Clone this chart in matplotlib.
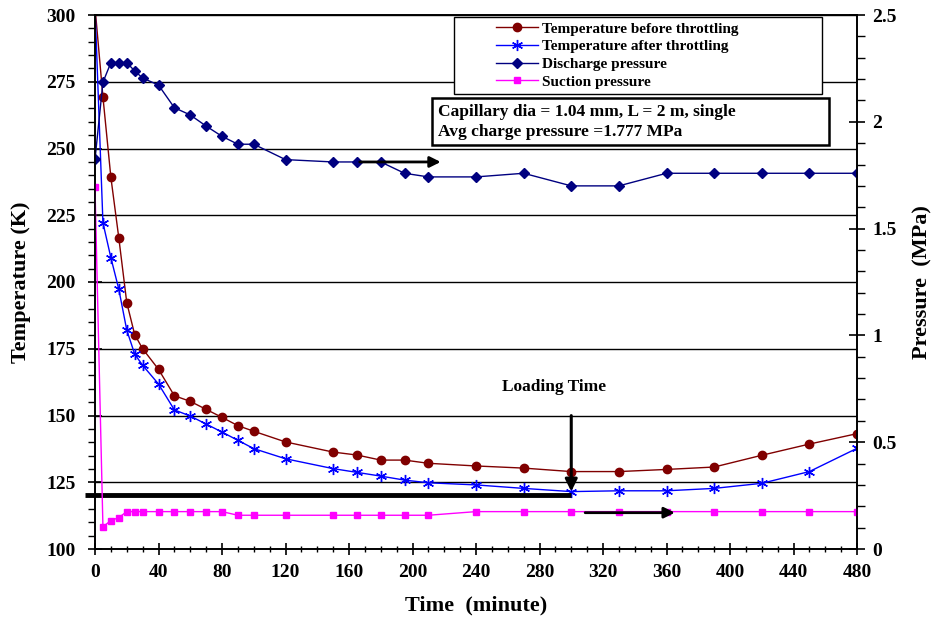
import matplotlib.pyplot as plt
from matplotlib.patches import Rectangle
from matplotlib.ticker import MultipleLocator

plt.rcParams['font.family'] = 'Liberation Serif'
plt.rcParams['font.weight'] = 'bold'

# time (minute)
time_min = [0, 5, 10, 15, 20, 25, 30, 40, 50, 60, 70, 80, 90, 100, 120,
            150, 165, 180, 195, 210, 240, 270, 300, 330, 360, 390, 420, 450, 480]

# temperatures (K)
temp_before = [303, 269.3, 239.2, 216.5, 192.3, 180.3, 175.0, 167.3, 157.4, 155.3,
               152.3, 149.3, 146.2, 144.1, 140.1, 136.3, 135.2, 133.3, 133.3, 132.1,
               131.1, 130.3, 129.0, 129.0, 129.8, 130.7, 135.1, 139.3, 143.2]
temp_after = [303, 222.2, 209.1, 197.3, 182.0, 173.0, 168.8, 161.8, 152.1, 149.8,
              146.8, 143.8, 140.7, 137.6, 133.8, 130.1, 128.7, 127.3, 125.8, 124.8,
              124.0, 122.7, 121.5, 121.8, 121.8, 122.7, 124.6, 129.0, 137.7]

# pressures (MPa)
p_discharge = [1.824, 2.185, 2.277, 2.277, 2.277, 2.238, 2.205, 2.172, 2.066, 2.032,
               1.980, 1.932, 1.895, 1.895, 1.823, 1.812, 1.812, 1.812, 1.759, 1.742,
               1.742, 1.759, 1.700, 1.700, 1.759, 1.759, 1.759, 1.759, 1.759]
p_suction = [1.693, 0.104, 0.133, 0.147, 0.175, 0.175, 0.175, 0.175, 0.175, 0.175,
             0.175, 0.175, 0.158, 0.158, 0.158, 0.158, 0.158, 0.158, 0.158, 0.158,
             0.175, 0.175, 0.175, 0.175, 0.175, 0.175, 0.175, 0.175, 0.175]

fig = plt.figure(figsize=(9.32, 6.21), dpi=100)
ax = fig.add_axes([95 / 932, 72 / 621, 762 / 932, 534 / 621])
ax2 = ax.twinx()

l1, = ax.plot(time_min, temp_before, color='#800000', lw=1, marker='o', ms=6,
              label='Temperature before throttling')
l2, = ax.plot(time_min, temp_after, color='#0000FF', lw=1, marker=(6, 2, 0), ms=8,
              mew=1, label='Temperature after throttling')
l3, = ax2.plot(time_min, p_discharge, color='#000080', lw=1, marker='D', ms=5,
               label='Discharge pressure')
l4, = ax2.plot(time_min, p_suction, color='#FF00FF', lw=1, marker='s', ms=4,
               label='Suction pressure')

ax.set_xlim(0, 480)
ax.set_ylim(100, 300)
ax2.set_ylim(0, 2.5)

ax.xaxis.set_major_locator(MultipleLocator(40))
ax.xaxis.set_minor_locator(MultipleLocator(10))
ax.yaxis.set_major_locator(MultipleLocator(25))
ax.yaxis.set_minor_locator(MultipleLocator(5))
ax2.yaxis.set_major_locator(MultipleLocator(0.5))
ax2.yaxis.set_minor_locator(MultipleLocator(0.1))
ax2.set_yticks([0, 0.5, 1, 1.5, 2, 2.5])
ax2.set_yticklabels(['0', '0.5', '1', '1.5', '2', '2.5'])

ax.tick_params(axis='x', which='major', direction='inout', length=8, width=1.2,
               labelsize=14, pad=7)
ax.tick_params(axis='x', which='minor', direction='inout', length=5, width=1)
ax.tick_params(axis='y', which='major', direction='inout', length=10, width=1.2,
               labelsize=14, pad=9)
ax.tick_params(axis='y', which='minor', direction='out', length=5, width=1)
ax2.tick_params(axis='y', which='major', direction='inout', length=12, width=1.2,
                labelsize=14, pad=5)
ax2.tick_params(axis='y', which='minor', direction='out', length=6, width=1)

for a in (ax, ax2):
    for s in a.spines.values():
        s.set_linewidth(1.2)

ax.grid(True, axis='y', which='major', color='black', lw=1)
ax.set_axisbelow(True)

ax.set_xlabel('Time  (minute)', fontsize=16, fontweight='bold', labelpad=10)
ax.set_ylabel('Temperature (K)', fontsize=16, fontweight='bold', labelpad=11)
ax2.set_ylabel('Pressure  (MPa)', fontsize=16, fontweight='bold', labelpad=11)

# loading time markers
ax.plot([-6.3, 300], [120.2, 120.2], color='black', lw=3.5, clip_on=False,
        solid_capstyle='butt')
ax.annotate('', xy=(300, 120.5), xytext=(300, 151),
            arrowprops=dict(arrowstyle='-|>', color='black', lw=2.2, mutation_scale=18))
ax.text(289, 160.8, 'Loading Time', ha='center', va='center', fontsize=12.5,
        fontweight='bold')

ax2.annotate('', xy=(219.5, 1.812), xytext=(165, 1.812),
             arrowprops=dict(arrowstyle='-|>', color='black', lw=2, mutation_scale=16))
ax2.annotate('', xy=(367, 0.170), xytext=(307, 0.170),
             arrowprops=dict(arrowstyle='-|>', color='black', lw=2, mutation_scale=16))

# legend box
ax2.add_patch(Rectangle((454 / 932, 1 - 94 / 621), 368 / 932, 77 / 621,
                        transform=fig.transFigure, fc='white', ec='black', lw=1,
                        clip_on=False, zorder=4))
leg = ax2.legend(handles=[l1, l2, l3, l4], loc='upper left',
                 bbox_to_anchor=(496 / 932, 1 - 22 / 621), bbox_transform=fig.transFigure,
                 frameon=False, borderpad=0, borderaxespad=0,
                 handlelength=2.75, handletextpad=0.25, labelspacing=0.26,
                 prop={'weight': 'bold', 'size': 11})

# note box
ax2.add_patch(Rectangle((432 / 932, 1 - 145 / 621), 397 / 932, 47 / 621,
                        transform=fig.transFigure, fc='white', ec='black', lw=1.8,
                        clip_on=False, zorder=4))
ax2.text(438 / 932, 1 - 122 / 621,
         'Capillary dia = 1.04 mm, L = 2 m, single\nAvg charge pressure =1.777 MPa',
         transform=fig.transFigure, ha='left', va='center', fontsize=12.5,
         fontweight='bold', linespacing=1.4, zorder=5)

fig.savefig('out.png', dpi=100)
